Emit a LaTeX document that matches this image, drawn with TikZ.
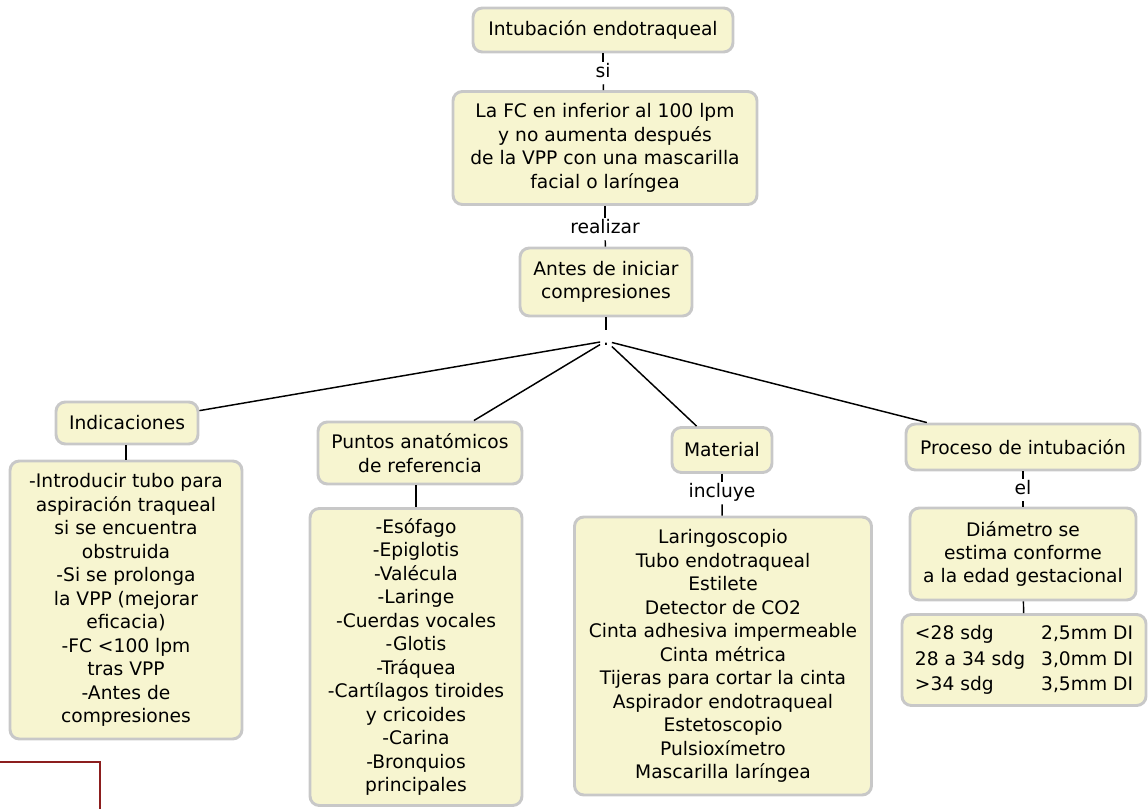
\documentclass[tikz,border=0pt]{standalone}
\usepackage{fontspec}
\setmainfont{DejaVu Sans}
\definecolor{boxfill}{RGB}{247,245,208}
\definecolor{boxline}{RGB}{200,200,200}
\definecolor{darkred}{RGB}{140,30,30}
\begin{document}
\begin{tikzpicture}[x=0.75pt,y=-0.75pt,
  every node/.style={font=\fontsize{14pt}{17.6pt}\selectfont},
  concept/.style 2 args={draw=boxline, line width=2.2pt, fill=boxfill,
    rounded corners=7pt, align=center, inner sep=0pt,
    minimum width={#1*0.75pt}, minimum height={#2*0.75pt}},
  linklabel/.style={inner sep=2pt, text height=9.5pt, text depth=3pt},
  conn/.style={draw=black, line width=1.1pt}]
\useasboundingbox (0,0) rectangle (1148,809);

\node[concept={260}{44}] (intub) at (603,30) {Intubación endotraqueal};
\node[linklabel] (si) at (603,73) {si};
\node[concept={304}{113}] (fc) at (605,148) {La FC en inferior al 100 lpm\\y no aumenta después\\de la VPP con una mascarilla\\facial o laríngea};
\node[linklabel] (realizar) at (605,229) {realizar};
\node[concept={172}{68}] (antes) at (606,282) {Antes de iniciar\\compresiones};
\node[linklabel] (dot) at (606,341) {.};

\node[concept={142}{42}] (indic) at (127,423) {Indicaciones};
\node[concept={232}{278}] (indicd) at (126,600) {-Introducir tubo para\\aspiración traqueal\\si se encuentra\\obstruida\\-Si se prolonga\\la VPP (mejorar\\eficacia)\\-FC <100 lpm\\tras VPP\\-Antes de\\compresiones};

\node[concept={204}{62}] (puntos) at (420,453) {Puntos anatómicos\\de referencia};
\node[concept={212}{297}] (puntosd) at (416,657) {-Esófago\\-Epiglotis\\-Valécula\\-Laringe\\-Cuerdas vocales\\-Glotis\\-Tráquea\\-Cartílagos tiroides\\y cricoides\\-Carina\\-Bronquios\\principales};

\node[concept={100}{45}] (mat) at (722,450) {Material};
\node[linklabel] (incluye) at (722,493) {incluye};
\node[concept={297}{278}] (matd) at (723,656) {Laringoscopio\\Tubo endotraqueal\\Estilete\\Detector de CO2\\Cinta adhesiva impermeable\\Cinta métrica\\Tijeras para cortar la cinta\\Aspirador endotraqueal\\Estetoscopio\\Pulsioxímetro\\Mascarilla laríngea};

\node[concept={234}{46}] (proc) at (1023,447) {Proceso de intubación};
\node[linklabel] (el) at (1023,490) {el};
\node[concept={226}{92}] (diam) at (1023,554) {Diámetro se\\estima conforme\\a la edad gestacional};
\node[concept={244}{91}] (tabla) at (1024,660) {\renewcommand{\arraystretch}{1.07}\begin{tabular}{@{}l@{\hspace{12pt}}l@{}}<28 sdg & 2,5mm DI\\28 a 34 sdg & 3,0mm DI\\>34 sdg & 3,5mm DI\end{tabular}};

\draw[conn] (intub) -- (si);
\draw[conn] (si) -- (fc);
\draw[conn] (fc) -- (realizar);
\draw[conn] (realizar) -- (antes);
\draw[conn] (antes) -- (dot);
\draw[conn] (dot) -- (indic);
\draw[conn] (dot) -- (puntos);
\draw[conn] (dot) -- (mat);
\draw[conn] (dot) -- (proc);
\draw[conn] (indic.south -| indicd.north) -- (indicd.north);
\draw[conn] (puntos.south -| puntosd.north) -- (puntosd.north);
\draw[conn] (mat) -- (incluye);
\draw[conn] (incluye) -- (matd);
\draw[conn] (proc) -- (el);
\draw[conn] (el) -- (diam);
\draw[conn] (diam) -- (tabla);

\coordinate (r1) at (0,762);
\coordinate (r2) at (100,762);
\coordinate (r3) at (100,809);
\draw[darkred, line width=1.3pt] (r1) -- (r2) -- (r3);
\end{tikzpicture}
\end{document}
